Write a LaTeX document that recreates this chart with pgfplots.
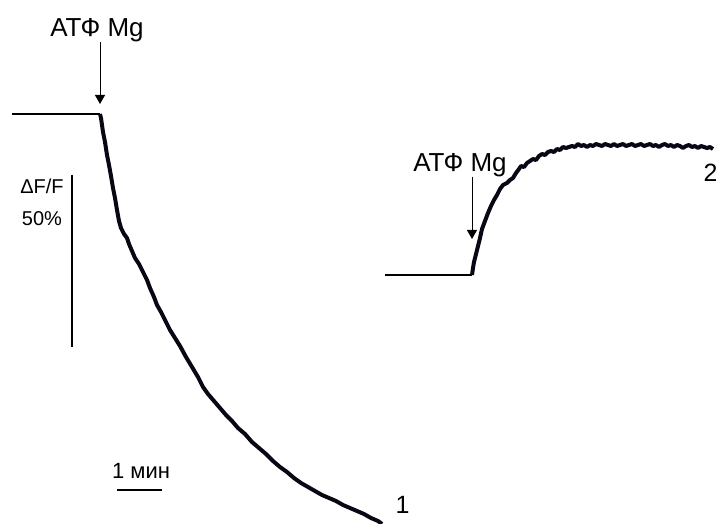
\documentclass[border=0pt]{standalone}
\usepackage{fontspec}
\setmainfont{Liberation Sans}
\usepackage{pgfplots}
\pgfplotsset{compat=1.18}
\usetikzlibrary{arrows.meta}
\definecolor{trace}{RGB}{8,8,20}

\pgfplotstableread{
x y
100 114
101 118
102 125
103 132
105 142
107 155
109 165
111 176
113 188
115 198
117 210
119 221
121 228
124 234
127 238
129 244
132 251
135 258
139 264
143 272
147 280
150 288
154 297
157 305
161 312
165 320
170 330
175 338
180 346
186 357
192 367
198 377
203 387
208 394
214 401
220 408
226 415
232 421
238 428
245 434
252 442
259 448
266 454
273 461
280 467
287 472
294 478
301 483
308 487
315 491
322 495
329 498
336 501
343 505
350 508
357 511
364 514
371 518
378 521
382 524
}\traceone

\pgfplotstableread{
x y
472 275
473 268
474 262
476 254
478 246
480 238
482 229
485 221
488 213
491 206
494 200
497 195
500 189
503 185
507 183
510 180
513 178
516 173
519 169
521 166
524 167
527 163
530 161
533 159
536 160
539 156
542 154
545 155
548 152
551 151
554 152
557 149
560 150
563 147
566 148
569 147
572 146
575 147
578 144
581 146
584 145
587 147
590 145
593 146
596 144
599 145
602 146
605 144
608 145
611 146
614 144
617 146
620 145
623 144
626 146
629 145
632 144
635 146
638 145
641 144
644 146
647 145
650 144
653 146
656 145
659 147
662 145
665 144
668 146
671 145
674 147
677 145
680 146
683 148
686 146
689 145
692 147
695 146
698 148
701 146
704 147
707 148
710 147
713 149
}\tracetwo

\begin{document}
\begin{tikzpicture}
\useasboundingbox (0,0) rectangle (716pt,524pt);
\begin{axis}[
  scale only axis,
  width=716pt, height=524pt,
  xmin=0, xmax=716, ymin=0, ymax=524,
  y dir=reverse,
  hide axis,
  clip=false,
]
% baselines
\addplot[black, line width=1.8pt] coordinates {(12,114) (100,114)};
\addplot[black, line width=1.8pt] coordinates {(385,275) (472,275)};
% traces
\addplot[trace, line width=4pt, line join=round] table[x=x,y=y] {\traceone};
\addplot[trace, line width=4pt, line join=round] table[x=x,y=y] {\tracetwo};
% scale bars
\addplot[black, line width=1.8pt] coordinates {(72,175) (72,347)};
\addplot[black, line width=1.8pt] coordinates {(117,490) (162,490)};
% arrows
\draw[-{Triangle[length=9pt,width=10pt]}, line width=1pt] (axis cs:100,42) -- (axis cs:100,104);
\draw[-{Triangle[length=9pt,width=10pt]}, line width=1pt] (axis cs:472,177) -- (axis cs:472,239);
% labels
\node[font=\fontsize{26}{28}\selectfont, anchor=base, inner sep=0pt] at (axis cs:97,37) {АТФ Mg};
\node[font=\fontsize{26}{28}\selectfont, anchor=base, inner sep=0pt] at (axis cs:460,172) {АТФ Mg};
\node[font=\fontsize{20}{22}\selectfont, anchor=base] at (axis cs:42,194) {ΔF/F};
\node[font=\fontsize{20}{22}\selectfont, anchor=base] at (axis cs:42,226) {50\%};
\node[font=\fontsize{22}{24}\selectfont, anchor=base] at (axis cs:141,478) {1 мин};
\node[font=\fontsize{25}{27}\selectfont, anchor=base west] at (axis cs:392,513) {1};
\node[font=\fontsize{25}{27}\selectfont, anchor=base west] at (axis cs:700,182) {2};
\end{axis}
\end{tikzpicture}
\end{document}
